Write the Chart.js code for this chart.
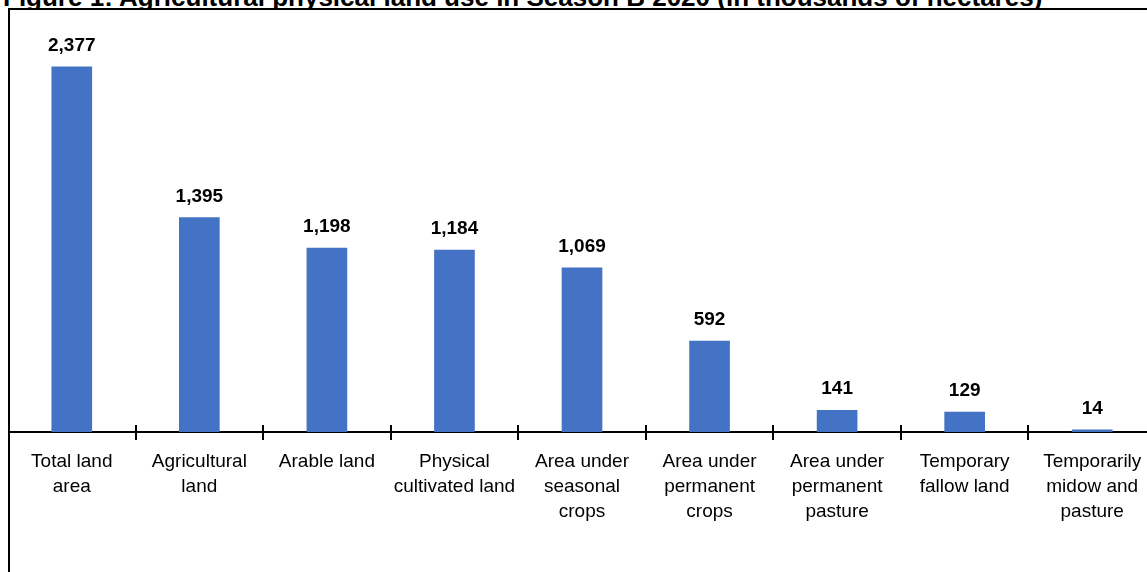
<!DOCTYPE html>
<html>
<head>
<meta charset="utf-8">
<script src="https://cdn.jsdelivr.net/npm/chart.js@4.4.1/dist/chart.umd.min.js"></script>
<style>
  html, body { margin: 0; padding: 0; background: #fff; }
  body { width: 1147px; height: 572px; overflow: hidden; position: relative; font-family: "Liberation Sans", Arial, sans-serif; }
  #title { position: absolute; left: 3px; top: -16px; font-size: 26px; line-height: 26px; font-weight: bold; color: #000; white-space: nowrap; }
  #wrap { position: absolute; left: 8px; top: 8px; width: 1148px; height: 564px; background: #fff; }
  #frame { position: absolute; left: 8px; top: 8px; width: 1200px; height: 600px; border-top: 2px solid #000; border-left: 2px solid #000; pointer-events: none; }
</style>
</head>
<body>
<div id="title">Figure 1: Agricultural physical land use in Season B 2020 (in thousands of hectares)</div>
<div id="wrap"><canvas id="chart" width="1148" height="564"></canvas></div>
<div id="frame"></div>
<script>
// 農地利用 (thousand ha)
const categories = [
    ['Total land', 'area'],
    ['Agricultural', 'land'],
    ['Arable land'],
    ['Physical', 'cultivated land'],
    ['Area under', 'seasonal', 'crops'],
    ['Area under', 'permanent', 'crops'],
    ['Area under', 'permanent', 'pasture'],
    ['Temporary', 'fallow land'],
    ['Temporarily', 'midow and', 'pasture'],
];
const landUse = [2377, 1395, 1198, 1184, 1069, 592, 141, 129, 14];

// 値ラベル
const valueLabels = {
    id: 'valueLabels',
    afterDatasetsDraw(chart) {
        const ctx = chart.ctx;
        const meta = chart.getDatasetMeta(0);
        ctx.save();
        ctx.font = 'bold 19px "Liberation Sans", Arial, sans-serif';
        ctx.fillStyle = '#000';
        ctx.textAlign = 'center';
        ctx.textBaseline = 'alphabetic';
        meta.data.forEach((bar, i) => {
            ctx.fillText(landUse[i].toLocaleString('en-US'), bar.x, bar.y - 16);
        });
        ctx.restore();
    }
};

// 軸の目盛り (軸線をまたぐ)
const crossTicks = {
    id: 'crossTicks',
    afterDraw(chart) {
        const ctx = chart.ctx;
        const x = chart.scales.x;
        const y0 = chart.chartArea.bottom;
        ctx.save();
        ctx.strokeStyle = '#000';
        ctx.lineWidth = 2;
        for (let i = 0; i < categories.length - 1; i++) {
            const px = Math.round((x.getPixelForValue(i) + x.getPixelForValue(i + 1)) / 2);
            ctx.beginPath();
            ctx.moveTo(px, y0 - 7);
            ctx.lineTo(px, y0 + 8);
            ctx.stroke();
        }
        ctx.restore();
    }
};

new Chart(document.getElementById('chart'), {
    type: 'bar',
    data: {
        labels: categories,
        datasets: [{
            data: landUse,
            backgroundColor: '#4472C4',
            borderWidth: 0,
            barThickness: 40,
        }]
    },
    options: {
        responsive: false,
        animation: false,
        layout: { padding: 0 },
        plugins: {
            legend: { display: false },
            tooltip: { enabled: false },
        },
        scales: {
            x: {
                grid: { display: false },
                border: { display: true, color: '#000', width: 2 },
                ticks: {
                    color: '#000',
                    padding: 9,
                    maxRotation: 0,
                    autoSkip: false,
                    font: { family: '"Liberation Sans", Arial, sans-serif', size: 19, lineHeight: 1.32 },
                },
                afterFit: s => { s.height = 140; },
            },
            y: {
                display: false,
                min: 0,
                max: 2760,
            }
        }
    },
    plugins: [valueLabels, crossTicks]
});
</script>
</body>
</html>
